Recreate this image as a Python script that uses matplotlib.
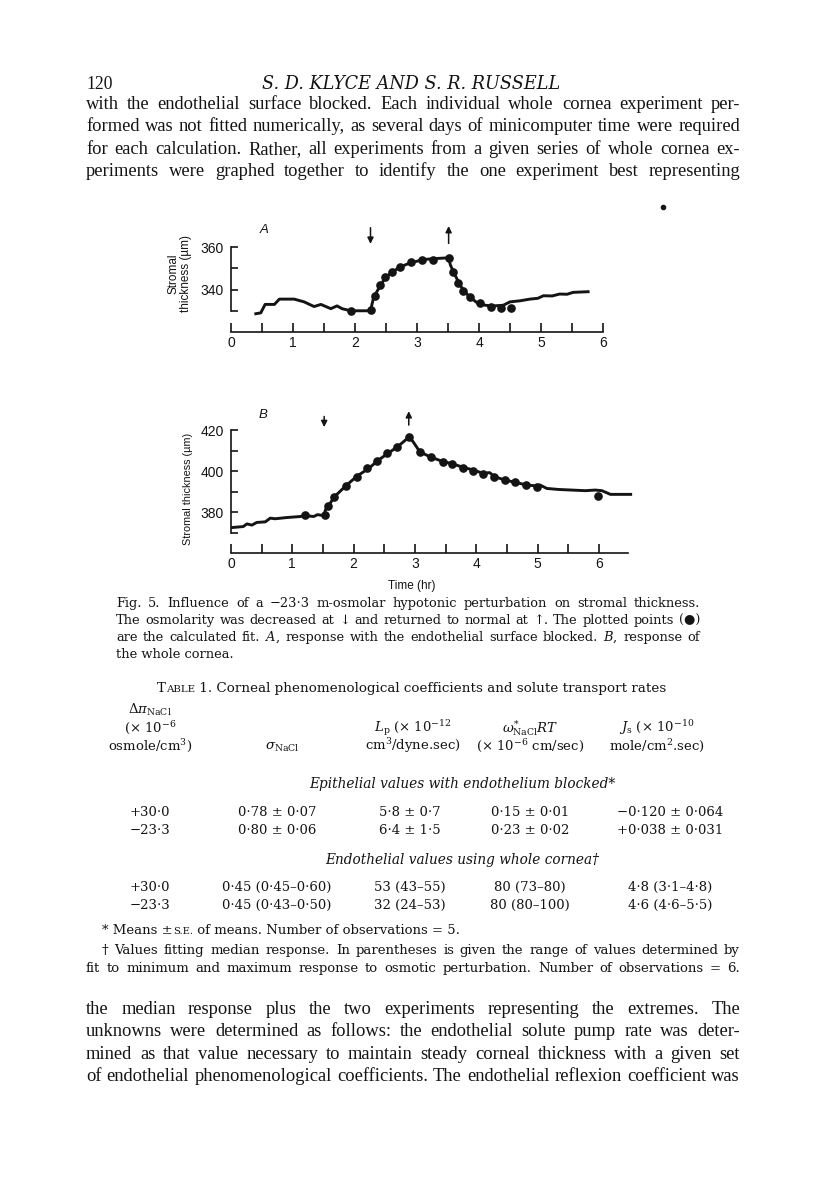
import matplotlib
matplotlib.use('Agg')
import matplotlib.pyplot as plt
import numpy as np

W, H = 816, 1183
INK = '#141414'
SERIF = ['DejaVu Serif', 'DejaVu Sans']
BODY = ['Liberation Serif', 'DejaVu Serif']
SANS = ['Liberation Sans', 'DejaVu Sans']
plt.rcParams['mathtext.fontset'] = 'dejavuserif'

# ---- Fig. 5 data ----
# A: endothelial surface blocked
a_line_t = [0.40, 0.48, 0.55, 0.70, 0.78, 1.02, 1.18, 1.34, 1.45, 1.61, 1.71, 1.79, 1.93, 2.25,
            2.30, 2.41, 2.49, 2.60, 2.73, 2.89, 3.11, 3.27, 3.51, 3.54, 3.59, 3.67, 3.75, 3.86,
            3.96, 4.10, 4.23, 4.39, 4.50, 4.66, 4.82, 4.95, 5.04, 5.18, 5.30, 5.42, 5.52, 5.76]
a_line_y = [328.6, 329.0, 333.0, 333.0, 335.5, 335.5, 334.2, 332.0, 333.0, 331.0, 332.3, 331.0, 330.0, 330.0,
            336.3, 342.0, 345.6, 348.3, 350.7, 352.6, 354.2, 354.6, 355.0, 351.5, 348.3, 343.5, 339.5, 336.3,
            334.0, 332.6, 332.3, 332.6, 334.2, 334.7, 335.5, 335.9, 337.1, 337.0, 337.9, 337.8, 338.7, 339.0]
a_dot_t = [1.93, 2.25, 2.33, 2.41, 2.49, 2.60, 2.73, 2.90, 3.08, 3.26, 3.51,
           3.58, 3.66, 3.74, 3.85, 4.01, 4.19, 4.35, 4.51]
a_dot_y = [330.0, 330.4, 336.8, 342.2, 345.9, 348.3, 350.7, 352.8, 353.9, 354.2, 355.0,
           348.3, 343.2, 339.5, 336.6, 333.6, 332.0, 331.5, 331.4]
a_down, a_up = 2.25, 3.51

# B: whole cornea
b_line_t = [0.01, 0.20, 0.26, 0.34, 0.42, 0.56, 0.64, 0.72, 0.91, 1.13, 1.21, 1.35, 1.41, 1.52,
            1.54, 1.60, 1.68, 1.87, 2.06, 2.25, 2.39, 2.56, 2.72, 2.91,
            2.97, 3.08, 3.24, 3.43, 3.62, 3.79, 3.95, 4.11, 4.22, 4.30, 4.47, 4.63, 4.82, 4.99,
            5.04, 5.15, 5.34, 5.56, 5.78, 5.94, 6.05, 6.19, 6.52]
b_line_y = [372.4, 372.9, 374.2, 373.6, 374.9, 375.2, 377.0, 376.7, 377.3, 377.8, 378.2, 377.8, 378.7, 378.2,
            381.0, 383.4, 387.2, 392.7, 397.6, 401.3, 405.0, 408.6, 411.9, 416.7,
            414.3, 409.4, 407.0, 404.9, 403.4, 401.8, 400.5, 398.9, 399.2, 397.2, 395.6, 394.5, 393.2, 392.7,
            393.2, 391.5, 391.0, 390.7, 390.4, 390.7, 390.4, 388.6, 388.6]
b_dot_t = [1.20, 1.53, 1.58, 1.68, 1.87, 2.06, 2.22, 2.38, 2.54, 2.71, 2.91,
           3.08, 3.26, 3.46, 3.61, 3.79, 3.95, 4.11, 4.29, 4.47, 4.63, 4.81, 4.99, 5.99]
b_dot_y = [378.3, 378.7, 383.0, 387.2, 392.7, 397.2, 401.6, 404.9, 408.6, 411.9, 416.7,
           409.4, 407.0, 404.6, 403.4, 401.6, 400.2, 398.6, 397.2, 395.6, 394.5, 393.0, 392.0, 387.8]
b_down, b_up = 1.52, 2.90

# ---- page text ----
header_left = '120'
header_mid = 'S. D. KLYCE AND S. R. RUSSELL'
body_top = [
    'with the endothelial surface blocked. Each individual whole cornea experiment per-',
    'formed was not fitted numerically, as several days of minicomputer time were required',
    'for each calculation. Rather, all experiments from a given series of whole cornea ex-',
    'periments were graphed together to identify the one experiment best representing',
]
caption = [
    'Fig. 5. Influence of a \u221223\u00b73 m-osmolar hypotonic perturbation on stromal thickness.',
    'The osmolarity was decreased at \u2193 and returned to normal at \u2191. The plotted points (\u25cf)',
    'are the calculated fit. $A$, response with the endothelial surface blocked. $B$, response of',
    'the whole cornea.',
]
col_heads = [
    ['$\\Delta\\pi_{\\rm NaCl}$', '(\u00d7 10$^{-6}$', 'osmole/cm$^{3}$)'],
    ['$\\sigma_{\\rm NaCl}$'],
    ['$L_{\\rm p}$ (\u00d7 10$^{-12}$', 'cm$^{3}$/dyne.sec)'],
    ['$\\omega_{\\rm NaCl}^{*}RT$', '(\u00d7 10$^{-6}$ cm/sec)'],
    ['$J_{\\rm s}$ (\u00d7 10$^{-10}$', 'mole/cm$^{2}$.sec)'],
]
epi_title = 'Epithelial values with endothelium blocked*'
epi_rows = [
    ['+30\u00b70', '0\u00b778 \u00b1 0\u00b707', '5\u00b78 \u00b1 0\u00b77', '0\u00b715 \u00b1 0\u00b701', '\u22120\u00b7120 \u00b1 0\u00b7064'],
    ['\u221223\u00b73', '0\u00b780 \u00b1 0\u00b706', '6\u00b74 \u00b1 1\u00b75', '0\u00b723 \u00b1 0\u00b702', '+0\u00b7038 \u00b1 0\u00b7031'],
]
endo_title = 'Endothelial values using whole cornea\u2020'
endo_rows = [
    ['+30\u00b70', '0\u00b745 (0\u00b745\u20130\u00b760)', '53 (43\u201355)', '80 (73\u201380)', '4\u00b78 (3\u00b71\u20134\u00b78)'],
    ['\u221223\u00b73', '0\u00b745 (0\u00b743\u20130\u00b750)', '32 (24\u201353)', '80 (80\u2013100)', '4\u00b76 (4\u00b76\u20135\u00b75)'],
]
foot2 = [
    '\u2020 Values fitting median response. In parentheses is given the range of values determined by',
    'fit to minimum and maximum response to osmotic perturbation. Number of observations = 6.',
]
body_bottom = [
    'the median response plus the two experiments representing the extremes. The',
    'unknowns were determined as follows: the endothelial solute pump rate was deter-',
    'mined as that value necessary to maintain steady corneal thickness with a given set',
    'of endothelial phenomenological coefficients. The endothelial reflexion coefficient was',
]

fig = plt.figure(figsize=(W / 100, H / 100), dpi=100)
fig.patch.set_facecolor('white')
page = fig.add_axes([0, 0, 1, 1])
page.set_xlim(0, W)
page.set_ylim(H, 0)
page.axis('off')
rend = fig.canvas.get_renderer()


def width(t):
    return t.get_window_extent(renderer=rend).width


def fit_size(lines, target, family, fill=0.99):
    # font size at which the widest line (words + plain spaces) takes `fill` of the measure
    probe = page.text(0, 0, 'x x', fontsize=10, family=family)
    two = width(probe)
    probe.set_text('xx')
    space = two - width(probe)
    best = 0
    for s in lines:
        words = s.replace('$', '').split(' ')
        tot = 0
        for w in words:
            probe.set_text(w)
            tot += width(probe)
        best = max(best, tot + space * (len(words) - 1))
    probe.remove()
    return 10 * target * fill / best


def justify(line, x0, x1, y, size, family):
    # spread the words of one line between x0 and x1
    words = line.split(' ')
    ts = [page.text(0, y, w, fontsize=size, family=family, va='baseline', color=INK) for w in words]
    ws = [width(t) for t in ts]
    gap = (x1 - x0 - sum(ws)) / (len(ts) - 1)
    x = x0
    for t, w in zip(ts, ws):
        t.set_x(x)
        x += w + gap


def runs(pieces, x, y, ha='left'):
    # text pieces of mixed size on one baseline
    ts = [page.text(0, y, s, fontsize=sz, family=SERIF, va='baseline', color=INK)
          for s, sz in pieces]
    ws = [width(t) for t in ts]
    if ha == 'center':
        x -= sum(ws) / 2
    for t, w in zip(ts, ws):
        t.set_x(x)
        x += w


L, R = 86, 740

body_size = fit_size(body_top + body_bottom, R - L, BODY)

# header
page.text(L, 89, header_left, fontsize=body_size * 0.95, family=BODY, va='baseline', color=INK)
page.text(411, 89, header_mid, fontsize=12.7, family=SERIF, style='italic', ha='center', va='baseline', color=INK)

for i, line in enumerate(body_top):
    justify(line, L, R, 109 + i * 22.4, body_size, BODY)

# speck on the scan
page.plot([663], [207], 'o', ms=3, color=INK)

# caption
cap_size = fit_size(caption[:-1], 700 - 116, SERIF)
for i, line in enumerate(caption[:-1]):
    justify(line, 116, 700, 607 + i * 17, cap_size, SERIF)
page.text(116, 607 + 3 * 17, caption[-1], fontsize=cap_size, family=SERIF, va='baseline', color=INK)

# table
runs([('T', 9.7), ('ABLE', 7.4), (' 1. Corneal phenomenological coefficients and solute transport rates', 9.7)],
     412, 692, ha='center')

head_x = [150, 282, 413, 530, 657]
row_x = [150, 277, 410, 530, 670]
for cx, lines in zip(head_x, col_heads):
    n = len(lines)
    for j, s in enumerate(lines):
        page.text(cx, 750 - (n - 1 - j) * 18, s, fontsize=9.5, family=SERIF, ha='center', va='baseline', color=INK)

page.text(462, 788, epi_title, fontsize=9.8, family=SERIF, style='italic', ha='center', va='baseline', color=INK)
for i, row in enumerate(epi_rows):
    for cx, s in zip(row_x, row):
        page.text(cx, 816 + i * 18, s, fontsize=9.5, family=SERIF, ha='center', va='baseline', color=INK)

page.text(462, 864, endo_title, fontsize=9.8, family=SERIF, style='italic', ha='center', va='baseline', color=INK)
for i, row in enumerate(endo_rows):
    for cx, s in zip(row_x, row):
        page.text(cx, 891 + i * 18, s, fontsize=9.5, family=SERIF, ha='center', va='baseline', color=INK)

foot_size = fit_size(foot2, R - 102, SERIF)
runs([('* Means \u00b1', foot_size), ('S.E.', foot_size * 0.75),
      (' of means. Number of observations = 5.', foot_size)], 102, 934)
justify(foot2[0], 102, R, 954, foot_size, SERIF)
justify(foot2[1], L, R, 972, foot_size, SERIF)

for i, line in enumerate(body_bottom):
    justify(line, L, R, 1014 + i * 22.4, body_size, BODY)


# ---- the two graphs ----
def graph_axes(left, top, right, bottom):
    return fig.add_axes([left / W, 1 - bottom / H, (right - left) / W, (bottom - top) / H])


def style(ax, ybase, ylo, yhi, ymajor, yminor, xend):
    for s in ['top', 'right']:
        ax.spines[s].set_visible(False)
    ax.spines['left'].set_bounds(ylo, yhi)
    ax.spines['bottom'].set_position(('data', ybase))
    ax.spines['bottom'].set_bounds(0, xend)
    for s in ['left', 'bottom']:
        ax.spines[s].set_linewidth(1.2)
        ax.spines[s].set_color(INK)
    ax.set_xticks(np.arange(0, 7))
    ax.set_xticks(np.arange(0.5, 6.0, 1.0), minor=True)
    ax.set_yticks(ymajor)
    ax.set_yticks(yminor, minor=True)
    ax.tick_params(axis='x', which='both', direction='in', length=6.5, width=1.2, pad=3,
                   labelsize=10, colors=INK)
    ax.tick_params(axis='y', which='both', direction='in', length=5, width=1.2, pad=5,
                   labelsize=10, colors=INK)
    for lab in ax.get_xticklabels() + ax.get_yticklabels():
        lab.set_family(SANS)
    ax.patch.set_alpha(0)


def arrow(ax, x, y0, y1):
    ax.annotate('', xy=(x, y1), xytext=(x, y0),
                arrowprops=dict(arrowstyle='-|>', lw=1.1, color=INK, mutation_scale=9, shrinkA=0, shrinkB=0))


# A
axA = graph_axes(231, 221.8, 231 + 6.5 * 62, 336.2)
axA.set_xlim(0, 6.5)
axA.set_ylim(318, 372)
axA.plot(a_line_t, a_line_y, color=INK, lw=2.1, solid_joinstyle='round')
axA.plot(a_dot_t, a_dot_y, 'o', color=INK, ms=5.2)
style(axA, 320, 330, 360, [340, 360], [330, 350], 6)
arrow(axA, a_down, 369.2, 361.6)
arrow(axA, a_up, 361.8, 370.0)
axA.text(0.54, 368, 'A', fontsize=9.5, style='italic', family=SANS, ha='center', va='center', color=INK)
axA.set_ylabel('Stromal\nthickness (\u00b5m)', fontsize=8.5, family=SANS, color=INK, linespacing=1.1)
axA.yaxis.set_label_coords(-0.097, 0.55)

# B
axB = graph_axes(231, 405.4, 231 + 6.6 * 61.3, 557.1)
axB.set_xlim(0, 6.6)
axB.set_ylim(358, 432)
axB.plot(b_line_t, b_line_y, color=INK, lw=2.1, solid_joinstyle='round')
axB.plot(b_dot_t, b_dot_y, 'o', color=INK, ms=5.2)
style(axB, 360, 370, 420, [380, 400, 420], [370, 390, 410], 6.47)
arrow(axB, b_down, 426.6, 421.4)
arrow(axB, b_up, 422.4, 429.2)
axB.text(0.53, 427.3, 'B', fontsize=9.5, style='italic', family=SANS, ha='center', va='center', color=INK)
axB.set_ylabel('Stromal thickness (\u00b5m)', fontsize=7.8, family=SANS, color=INK)
axB.yaxis.set_label_coords(-0.094, 0.45)
axB.set_xlabel('Time (hr)', fontsize=8.5, family=SANS, color=INK)
axB.xaxis.set_label_coords(181 / 404.6, -0.15)

fig.savefig('out.png', dpi=100, facecolor='white')
